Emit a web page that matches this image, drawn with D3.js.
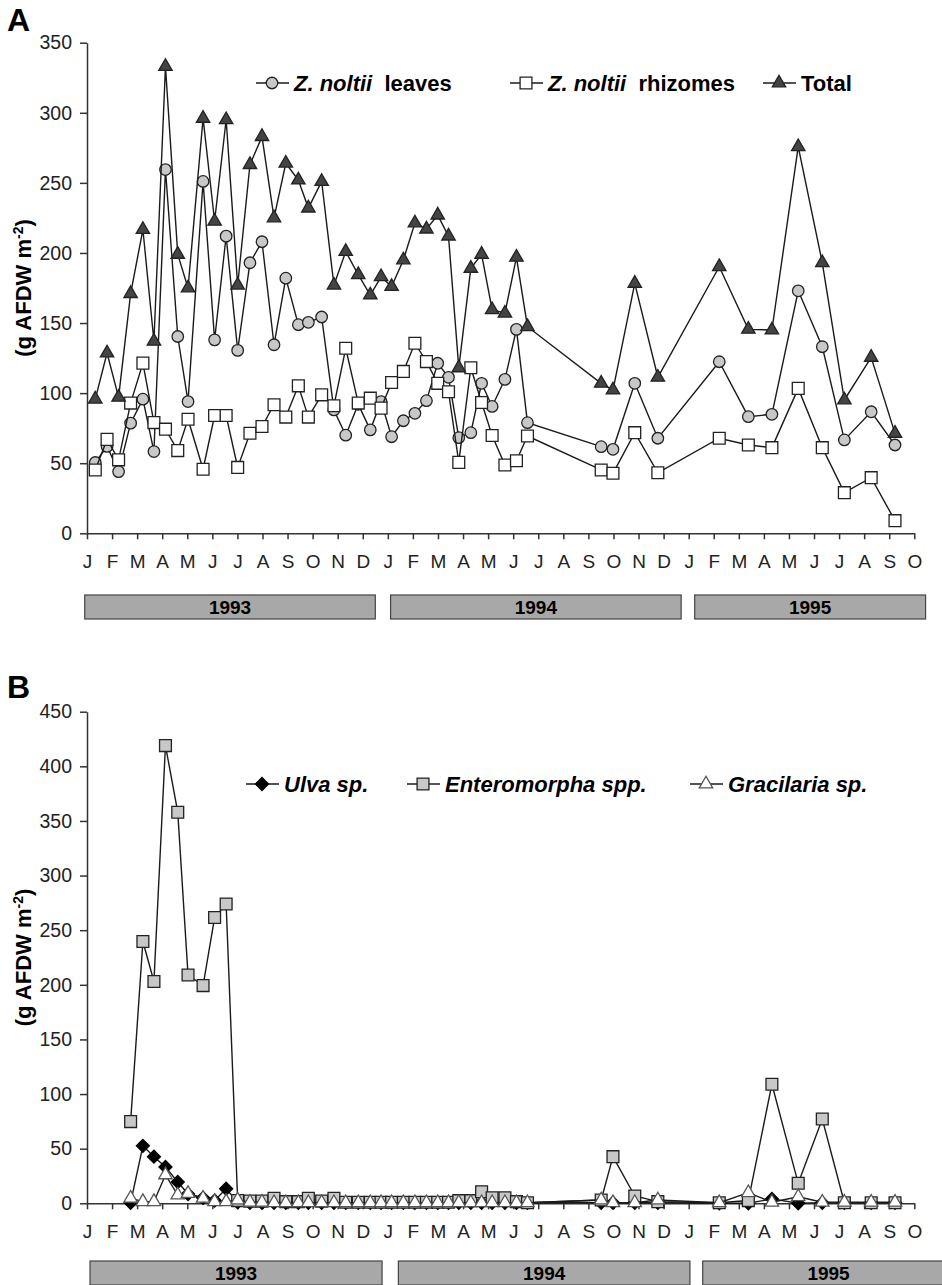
<!doctype html>
<html>
  <head>
    <meta charset="utf-8">
    <title>Z. noltii and macroalgae biomass</title>
    <script src="https://cdnjs.cloudflare.com/ajax/libs/d3/7.8.5/d3.min.js"></script>
    <style>
      body { margin: 0; background: #fff; }
      svg { font-family: Arial, "Liberation Sans", sans-serif; }
      .domain { stroke: #333; stroke-width: 1.5; }
      .tick line { stroke: #333; stroke-width: 1.5; }
    </style>
  </head>
  <body>
    <svg id="chart" width="942" height="1285"></svg>

    <script>
      // ---- data (months counted from Jan 1993 = 0) ----
      const monthLabels = ['J','F','M','A','M','J','J','A','S','O','N','D',
                           'J','F','M','A','M','J','J','A','S','O','N','D',
                           'J','F','M','A','M','J','J','A','S','O'];
      const years = ['1993', '1994', '1995'];

      // panel A sampling dates
      const datesA = [0.33, 0.8, 1.26, 1.74, 2.23, 2.67, 3.13, 3.62, 4.03, 4.63,
                      5.09, 5.55, 6.01, 6.5, 6.98, 7.46, 7.93, 8.43, 8.83, 9.36,
                      9.85, 10.32, 10.82, 11.3, 11.73, 12.15, 12.62, 13.08, 13.54, 13.99,
                      14.42, 14.83, 15.31, 15.74, 16.16, 16.67, 17.13, 17.57, 20.51, 20.98,
                      21.85, 22.77, 25.22, 26.38, 27.32, 28.37, 29.33, 30.21, 31.28, 32.23];
      const leaves = [50.5, 62, 44, 78.6, 95.7, 58.3, 259.5, 140.4, 94, 251,
                      138, 212, 130.5, 193, 208, 134.5, 182, 148.8, 150.5, 154.3,
                      88, 70, 92, 73.8, 94, 68.9, 80.3, 85.6, 94.6, 121.3,
                      111.3, 68.2, 71.8, 107, 90.5, 109.8, 145.5, 78.9, 61.8, 59.9,
                      107, 67.8, 122.4, 83.2, 84.9, 173, 133.1, 66.6, 86.7, 63];
      const rhizomes = [45.2, 67, 52.4, 92.9, 121.4, 79, 74.3, 59, 81.4, 45.7,
                        84, 84, 47, 71.4, 76.2, 91.7, 82.9, 105.2, 82.9, 98.8,
                        91, 132, 92.9, 96.4, 89.3, 107.6, 115.5, 135.6, 122.5, 107,
                        101, 50.6, 118.1, 93.3, 69.8, 48.7, 51.8, 69.4, 45.2, 42.8,
                        71.8, 43.2, 67.8, 63, 61.1, 103.4, 61.1, 29, 39.7, 9];
      const total = [95.7, 128.6, 97, 171, 216.7, 137, 333, 199, 175, 296,
                     222.6, 295, 177, 263, 283, 225, 264, 252, 232, 251,
                     177, 201, 184.5, 170, 183, 176, 195, 221.4, 217, 227,
                     212, 118, 189, 199, 159.5, 157, 196.9, 147.4, 107, 102.2,
                     178.3, 111.3, 190.2, 145.5, 145, 275.8, 193, 95.1, 125.5, 71.3];

      // panel B sampling dates
      const datesB = [1.74, 2.23, 2.67, 3.13, 3.62, 4.03, 4.63, 5.09, 5.55,
                      6.01, 6.5, 6.98, 7.46, 7.93, 8.43, 8.83, 9.36, 9.85, 10.32, 10.82, 11.3, 11.73,
                      12.15, 12.62, 13.08, 13.54, 13.99, 14.42, 14.83, 15.31, 15.74, 16.16, 16.67, 17.13, 17.57,
                      20.51, 20.98, 21.85, 22.77,
                      25.22, 26.38, 27.32, 28.37, 29.33, 30.21, 31.28, 32.23];
      const ulva = [0.5, 52.6, 42.7, 33.3, 19.5, 8.5, 5, 2.5, 13.3,
                    1, 0.5, 0.5, 0.5, 0.5, 0.5, 0.5, 0.5, 0.5, 0.5, 0.5, 0.5, 0.5,
                    0.5, 0.5, 0.5, 0.5, 0.5, 0.5, 0.5, 0.5, 0.5, 0.5, 0.5, 0.5, 0.5,
                    0.5, 0.5, 0.5, 0.5,
                    0, 0, 4, 0, 0.5, 0.5, 0.5, 0.5];
      const enteromorpha = [74.8, 239.6, 203, 419, 358, 209, 199.3, 261.6, 274,
                            2.5, 2, 2, 4.6, 1.5, 1.5, 4.6, 2, 4.6, 1, 1, 1, 1,
                            1, 1, 1, 1, 1, 1, 2.4, 2.4, 10.6, 5, 5, 1.5, 0.5,
                            3, 42.7, 6.7, 1.5,
                            0.5, 2.5, 109, 18.3, 77.2, 0.5, 0.5, 0.5];
      const gracilaria = [4.6, 1.5, 1.5, 26, 7.6, 9, 4.6, 1.5, 1.5,
                          3, 1, 1, 0.5, 0.5, 0.5, 0.5, 0.5, 0.5, 0.5, 0.5, 0.5, 0.5,
                          0.5, 0.5, 0.5, 0.5, 0.5, 0.5, 0.5, 0.5, 0.5, 0.5, 0.5, 0.5, 0.5,
                          3, 0.5, 0.5, 3,
                          0.5, 9.7, 1, 6, 1, 1, 1, 1];

      const svg = d3.select('#chart');
      svg.append('rect').attr('width', 942).attr('height', 1285).attr('fill', '#fff');

      const zip = (dates, vals) => dates.map((m, i) => ({ m: m, v: vals[i] }));

      // marker shapes
      const sym = {
        circle: d3.symbol().type(d3.symbolCircle).size(104)(),
        square: d3.symbol().type(d3.symbolSquare).size(140)(),
        triangle: d3.symbol().type(d3.symbolTriangle).size(78)(),
        diamond: 'M0,-6.5L6.5,0L0,6.5L-6.5,0Z'
      };

      function drawPanel(p) {
        const x = d3.scaleLinear().domain([0, 33]).range([87, 914.3]);
        const y = d3.scaleLinear().domain([0, p.yMax]).range([p.y0, p.y1]);

        // panel letter
        svg.append('text').attr('x', 7).attr('y', p.letterY)
          .attr('font-size', 32).attr('font-weight', 'bold').text(p.letter);

        // y axis
        svg.append('g').attr('transform', 'translate(87,0)')
          .call(d3.axisLeft(y).tickValues(d3.range(0, p.yMax + 1, 50))
            .tickSize(7).tickSizeOuter(0).tickPadding(8))
          .call(g => g.selectAll('text').attr('font-size', 19.5).attr('fill', '#222')
            .attr('font-family', 'Arial, "Liberation Sans", sans-serif'));

        // x axis
        svg.append('g').attr('transform', `translate(0,${p.y0})`)
          .call(d3.axisBottom(x).tickValues(d3.range(0, 34))
            .tickFormat(i => monthLabels[i]).tickSize(6).tickSizeOuter(0).tickPadding(15.5))
          .call(g => g.selectAll('text').attr('font-size', 19).attr('fill', '#222')
            .attr('font-family', 'Arial, "Liberation Sans", sans-serif'));

        // y title
        const t = svg.append('text')
          .attr('transform', `translate(31,${(p.y0 + p.y1) / 2}) rotate(-90)`)
          .attr('text-anchor', 'middle').attr('font-size', 22).attr('font-weight', 'bold');
        t.append('tspan').text('(g AFDW m');
        t.append('tspan').attr('font-size', 14).attr('dy', -8).text('-2');
        t.append('tspan').attr('dy', 8).text(')');

        // year boxes
        p.boxes.forEach((b, i) => {
          svg.append('rect').attr('x', x(b[0])).attr('y', p.boxY)
            .attr('width', x(b[1]) - x(b[0])).attr('height', 24)
            .attr('fill', '#a8a8a8').attr('stroke', '#444').attr('stroke-width', 1.2);
          svg.append('text').attr('x', (x(b[0]) + x(b[1])) / 2).attr('y', p.boxY + 19)
            .attr('text-anchor', 'middle').attr('font-size', 19).attr('font-weight', 'bold')
            .text(years[i]);
        });

        // series
        const line = d3.line().x(d => x(d.m)).y(d => y(d.v));
        p.series.forEach(s => {
          const pts = zip(p.dates, s.values);
          svg.append('path').datum(pts).attr('d', line)
            .attr('fill', 'none').attr('stroke', '#1a1a1a').attr('stroke-width', 1.4);
          svg.append('g').selectAll('path').data(pts).join('path')
            .attr('transform', d => `translate(${x(d.m)},${y(d.v)})`)
            .attr('d', sym[s.shape]).attr('fill', s.fill)
            .attr('stroke', s.stroke).attr('stroke-width', 1.3);
        });

        // legend
        p.series.forEach(s => {
          const lx = s.legendX, ly = p.legendY;
          svg.append('line').attr('x1', lx - 16).attr('x2', lx + 17)
            .attr('y1', ly).attr('y2', ly).attr('stroke', '#1a1a1a').attr('stroke-width', 1.4);
          svg.append('path').attr('transform', `translate(${lx},${ly})`)
            .attr('d', sym[s.shape]).attr('fill', s.fill)
            .attr('stroke', s.stroke).attr('stroke-width', 1.3);
          const tx = svg.append('text').attr('x', lx + 22).attr('y', ly + 8)
            .attr('font-size', 22).attr('font-weight', 'bold');
          s.label.forEach(part => {
            tx.append('tspan').attr('font-style', part[1] ? 'italic' : 'normal')
              .attr('xml:space', 'preserve').text(part[0]);
          });
        });
      }

      drawPanel({
        letter: 'A', letterY: 31, yMax: 350, y0: 533.3, y1: 42.7,
        boxY: 595, boxes: [[-0.09, 11.5], [12.11, 23.7], [24.24, 33.45]],
        legendY: 83, dates: datesA,
        series: [
          { values: leaves, shape: 'circle', fill: '#c8c8c8', stroke: '#222', legendX: 272,
            label: [['Z. noltii', true], ['  leaves', false]] },
          { values: rhizomes, shape: 'square', fill: '#fff', stroke: '#222', legendX: 526,
            label: [['Z. noltii', true], ['  rhizomes', false]] },
          { values: total, shape: 'triangle', fill: '#444', stroke: '#222', legendX: 779,
            label: [['Total', false]] }
        ]
      });

      drawPanel({
        letter: 'B', letterY: 698, yMax: 450, y0: 1203.3, y1: 711.7,
        boxY: 1261, boxes: [[0.12, 11.77], [12.42, 24.05], [24.56, 34.6]],
        legendY: 784, dates: datesB,
        series: [
          { values: ulva, shape: 'diamond', fill: '#000', stroke: '#000', legendX: 262,
            label: [['Ulva sp.', true]] },
          { values: enteromorpha, shape: 'square', fill: '#c8c8c8', stroke: '#222', legendX: 423,
            label: [['Enteromorpha spp.', true]] },
          { values: gracilaria, shape: 'triangle', fill: '#fff', stroke: '#555', legendX: 706,
            label: [['Gracilaria sp.', true]] }
        ]
      });
    </script>
  </body>
</html>
